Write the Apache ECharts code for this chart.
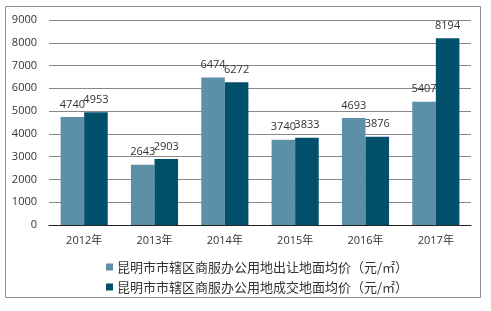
<!DOCTYPE html>
<html><head><meta charset="utf-8">
<script src="https://cdn.jsdelivr.net/npm/echarts@6/dist/echarts.min.js"></script>
<style>html,body{margin:0;padding:0;background:#fff}#c{width:491px;height:311px}</style>
</head><body><div id="c"></div>
<script>
const categories = ['2012年','2013年','2014年','2015年','2016年','2017年'];
const seriesNames = ['昆明市市辖区商服办公用地出让地面均价（元/㎡）','昆明市市辖区商服办公用地成交地面均价（元/㎡）'];
const transferPrice = [4740, 2643, 6474, 3740, 4693, 5407];
const dealPrice = [4953, 2903, 6272, 3833, 3876, 8194];
const yTicks = [0, 1000, 2000, 3000, 4000, 5000, 6000, 7000, 8000, 9000];

const font = "'Open Sans','Noto Sans CJK SC',sans-serif";
const chart = echarts.init(document.getElementById('c'));
chart.setOption({
  animation: false,
  graphic: [{type:'rect', shape:{x:5.5,y:6.5,width:475,height:291}, style:{fill:'none', stroke:'#8c8c8c', lineWidth:1}, silent:true}],
  grid: {left: 49, right: 20, top: 20, bottom: 86, containLabel: false},
  legend: {
    orient: 'vertical', left: 101, top: 260, itemWidth: 7, itemHeight: 7, itemGap: 6,
    icon: 'rect', padding: [0, 5],
    textStyle: {fontFamily: "'Noto Sans CJK SC',sans-serif", fontSize: 13, lineHeight: 14, color: '#333', padding: [0,0,0,-1]},
    data: seriesNames
  },
  xAxis: {
    type: 'category', data: categories,
    axisLine: {lineStyle: {color: '#222', width: 1}},
    axisTick: {show: false},
    axisLabel: {fontFamily: font, fontSize: 11, color: '#333', margin: 10}
  },
  yAxis: {
    type: 'value', min: yTicks[0], max: yTicks[yTicks.length-1], interval: 1000,
    axisLine: {show: false}, axisTick: {show: false},
    splitLine: {lineStyle: {color: '#888', width: 1}},
    axisLabel: {fontFamily: font, fontSize: 11, color: '#333', margin: 12, formatter: v => String(v)}
  },
  series: [
    {name: seriesNames[0], type: 'bar', data: transferPrice, barGap: '0%', barCategoryGap: '33%',
     itemStyle: {color: '#5b90a8'},
     label: {show: true, position: 'top', fontFamily: font, fontSize: 11, color: '#333', distance: 7}},
    {name: seriesNames[1], type: 'bar', data: dealPrice,
     itemStyle: {color: '#02506b'},
     label: {show: true, position: 'top', fontFamily: font, fontSize: 11, color: '#333', distance: 7}}
  ]
});
</script></body></html>
